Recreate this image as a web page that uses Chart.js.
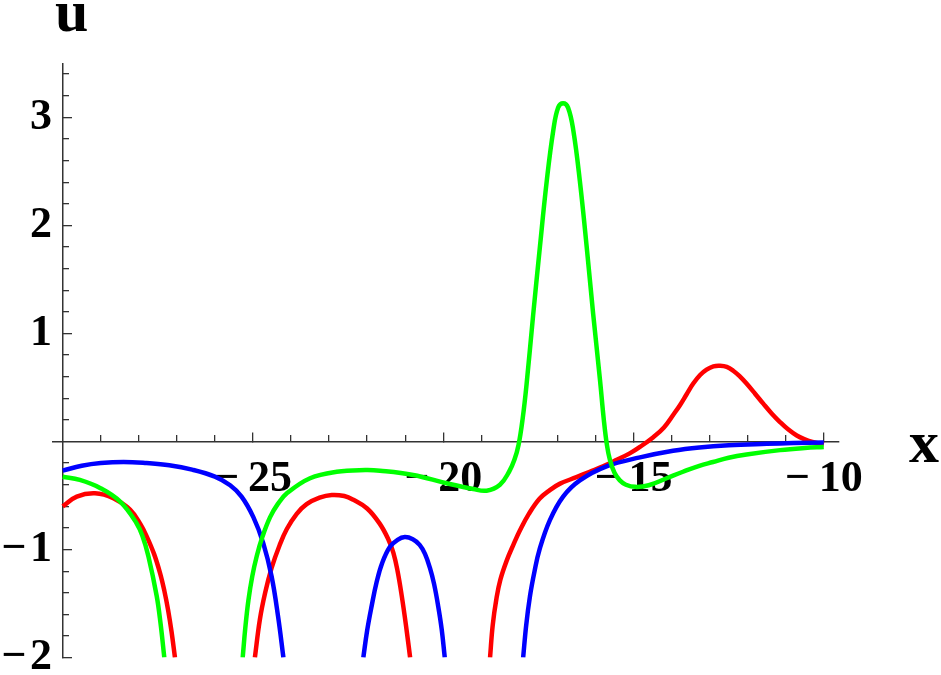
<!DOCTYPE html>
<html>
<head>
<meta charset="utf-8">
<script src="https://cdn.jsdelivr.net/npm/chart.js@4.4.1/dist/chart.umd.min.js"></script>
<style>
    body { margin: 0; background: #fff; }
</style>
</head>
<body>
<canvas id="myChart" width="941" height="675"></canvas>
<script>
// values, null = curve leaves the plot (below u = -2)
const greenX = [-30, -29.55, -29.02, -28.49, -28.06, -27.9, -27.75, -27.53, -27.43, -27.33, -26.3,
    -25.27, -25.2, -25.12, -25.02, -24.9, -24.75, -24.55, -24.35, -24.11, -23.5, -22.8, -22.05, -21.66, -20.79, -19.91, -19.21, -18.86,
    -18.51, -18.27, -18.13, -18.02, -17.91, -17.81, -17.64, -17.46, -17.28, -17.11, -16.98, -16.85,
    -16.72, -16.58, -16.41, -16.23, -16.06, -15.88, -15.78, -15.7, -15.62, -15.5, -15.36, -15.2, -14.95,
    -14.6, -14.13, -13.7, -13.27, -12.91, -12.5, -12.03, -11.15, -10.5, -10];
const greenU = [-0.326, -0.356, -0.43, -0.557, -0.756, -0.88, -1.06, -1.43, -1.68, -2.0, null,
    -2.0, -1.72, -1.47, -1.25, -1.06, -0.88, -0.7, -0.58, -0.48, -0.34, -0.28, -0.264, -0.27, -0.31, -0.387, -0.44, -0.455,
    -0.4, -0.28, -0.17, -0.03, 0.22, 0.53, 1.16, 1.8, 2.41, 2.875, 3.09, 3.13,
    3.09, 2.875, 2.41, 1.8, 1.18, 0.567, 0.2, -0.03, -0.17, -0.29, -0.36, -0.4, -0.42,
    -0.405, -0.34, -0.28, -0.225, -0.19, -0.15, -0.12, -0.08, -0.06, -0.05];

const redX = [-30, -29.63, -29.15, -28.67, -28.23, -27.95, -27.79, -27.6, -27.44, -27.33, -27.23, -27.14, -27.05, -26.0,
    -24.95, -24.82, -24.68, -24.51, -24.3, -24.11, -23.85, -23.59, -23.25, -22.93, -22.6, -22.36, -22.0, -21.67,
    -21.45, -21.31, -21.2, -21.09, -20.98, -20.87, -19.8,
    -18.77, -18.7, -18.6, -18.5, -18.33, -18.15, -17.98, -17.75, -17.47, -17.2, -16.93, -16.5, -16.15, -15.8, -15.44, -15.1,
    -14.83, -14.48, -14.2, -13.95, -13.78, -13.6, -13.43, -13.25, -13.08, -12.9, -12.73, -12.55, -12.38,
    -12.2, -12.03, -11.8, -11.59, -11.37, -11.15, -10.93, -10.71, -10.5, -10.3, -10];
const redU = [-0.6, -0.51, -0.48, -0.525, -0.63, -0.77, -0.88, -1.04, -1.22, -1.38, -1.56, -1.76, -2.0, null,
    -2.0, -1.65, -1.4, -1.17, -0.96, -0.81, -0.67, -0.58, -0.52, -0.495, -0.505, -0.54, -0.62, -0.76,
    -0.9, -1.03, -1.2, -1.43, -1.7, -2.0, null,
    -2.0, -1.7, -1.45, -1.28, -1.1, -0.95, -0.82, -0.67, -0.53, -0.45, -0.39, -0.33, -0.28, -0.23, -0.17, -0.11,
    -0.05, 0.04, 0.13, 0.25, 0.336, 0.44, 0.536, 0.615, 0.665, 0.695, 0.7, 0.69, 0.655,
    0.6, 0.536, 0.44, 0.35, 0.26, 0.18, 0.11, 0.055, 0.02, -0.005, -0.03];

const blueX = [-30, -29.5, -29.0, -28.4, -27.8, -27.2, -26.6, -26.0, -25.6, -25.3, -24.99, -24.73, -24.51, -24.34, -24.2, -23.1,
    -22.1, -22.0, -21.88, -21.75, -21.6, -21.4, -21.2, -21.01, -20.8, -20.62, -20.48, -20.35, -20.24, -20.13, -20.04, -19.96, -19.0,
    -17.9, -17.82, -17.72, -17.6, -17.47, -17.2, -16.85, -16.41, -15.71, -14.83, -13.96, -13.27, -12.5, -11.5, -10.8, -10];
const blueU = [-0.27, -0.225, -0.2, -0.19, -0.2, -0.22, -0.26, -0.325, -0.405, -0.51, -0.7, -0.94, -1.25, -1.62, -2.0, null,
    -2.0, -1.75, -1.52, -1.3, -1.12, -0.975, -0.91, -0.885, -0.905, -0.957, -1.04, -1.17, -1.32, -1.53, -1.74, -2.0, null,
    -2.0, -1.7, -1.43, -1.2, -1.0, -0.73, -0.51, -0.36, -0.23, -0.147, -0.086, -0.055, -0.035, -0.022, -0.015, -0.01];

// ticks
const xMajorTicks = [-25, -20, -15, -10];
const xMinorTicks = [-29, -28, -27, -26, -24, -23, -22, -21, -19, -18, -17, -16, -14, -13, -12, -11];
const yMajorTicks = [-2, -1, 1, 2, 3];
const yMinorTicks = [-1.8, -1.6, -1.4, -1.2, -0.8, -0.6, -0.4, -0.2, 0.2, 0.4, 0.6, 0.8,
    1.2, 1.4, 1.6, 1.8, 2.2, 2.4, 2.6, 2.8, 3.2, 3.4];

const tickFont = { family: '"Liberation Serif", "Times New Roman", serif', size: 44, weight: 'bold' };
const axisColor = '#333';

function toPoints(xs, us) {
    let pts = [];
    for (let i = 0; i < xs.length; i++) {
        pts.push({ x: xs[i], y: us[i] });
    }
    return pts;
}

function fmtX(v) {
    return v < 0 ? '\u2212\u2009' + Math.abs(v) : '' + v;
}

function fmtY(v) {
    return v < 0 ? '\u2212\u200a' + Math.abs(v) : '' + v;
}

function zeroPad(scale) {
    scale.paddingLeft = 0;
    scale.paddingRight = 0;
    scale.paddingTop = 0;
    scale.paddingBottom = 0;
}

function setTicks(list) {
    return function (scale) {
        scale.ticks = list.map(function (v) { return { value: v }; });
    };
}

function line(label, color, xs, us) {
    return {
        label: label,
        data: toPoints(xs, us),
        borderColor: color,
        borderWidth: 4.5,
        pointRadius: 0,
        showLine: true,
        spanGaps: false,
        tension: 0.4,
        xAxisID: 'x',
        yAxisID: 'y'
    };
}

// u and x labels next to the axes
const axisTitles = {
    id: 'axisTitles',
    afterDraw(chart) {
        let ctx = chart.ctx;
        let xs = chart.scales.x;
        let ys = chart.scales.y;
        ctx.save();
        ctx.font = 'bold 60px "Liberation Serif", serif';
        ctx.fillStyle = '#000';
        ctx.textAlign = 'center';
        ctx.textBaseline = 'alphabetic';
        ctx.fillText('u', xs.getPixelForValue(-30) + 9, 31);
        ctx.fillText('x', xs.right + 85, ys.getPixelForValue(0) + 21);
        ctx.restore();
    }
};

const config = {
    type: 'scatter',
    data: {
        datasets: [
            line('green', '#00ff00', greenX, greenU),
            line('blue', '#0000ff', blueX, blueU),
            line('red', '#ff0000', redX, redU)
        ]
    },
    options: {
        responsive: false,
        animation: false,
        devicePixelRatio: 1,
        layout: { padding: { left: 0, right: 102, top: 63.3, bottom: 17.4 } },
        plugins: { legend: { display: false }, tooltip: { enabled: false } },
        scales: {
            x: {
                type: 'linear', axis: 'x', min: -30.255, max: -9.6, position: { y: 0 },
                afterBuildTicks: setTicks(xMajorTicks),
                afterFit: zeroPad,
                ticks: { font: tickFont, color: '#000', padding: 22, maxRotation: 0, autoSkip: false, callback: fmtX },
                grid: { drawOnChartArea: false, tickLength: -10, color: axisColor, lineWidth: 1.3 },
                border: { color: axisColor, width: 1.5 }
            },
            xMinor: {
                type: 'linear', axis: 'x', min: -30.255, max: -9.6, position: { y: 0 },
                afterBuildTicks: setTicks(xMinorTicks),
                afterFit: zeroPad,
                ticks: { display: false },
                grid: { drawOnChartArea: false, tickLength: -6, color: axisColor, lineWidth: 1.3 },
                border: { display: false }
            },
            y: {
                type: 'linear', axis: 'y', min: -2, max: 3.5, position: { x: -30 },
                afterBuildTicks: setTicks(yMajorTicks),
                afterFit: zeroPad,
                ticks: { display: false },
                grid: { drawOnChartArea: false, tickLength: -10, color: axisColor, lineWidth: 1.3 },
                border: { color: axisColor, width: 1.5 }
            },
            yMinor: {
                type: 'linear', axis: 'y', min: -2, max: 3.5, position: { x: -30 },
                afterBuildTicks: setTicks(yMinorTicks),
                afterFit: zeroPad,
                ticks: { display: false },
                grid: { drawOnChartArea: false, tickLength: -6, color: axisColor, lineWidth: 1.3 },
                border: { display: false }
            },
            yLab: {
                // only carries the tick labels left of the u axis
                type: 'linear', axis: 'y', min: -2, max: 3.5, position: 'left',
                afterBuildTicks: setTicks(yMajorTicks),
                afterFit: function (scale) { zeroPad(scale); scale.width = 53; },
                ticks: { font: tickFont, color: '#000', padding: 1, callback: fmtY },
                grid: { display: false, drawTicks: false },
                border: { display: false }
            }
        }
    },
    plugins: [axisTitles]
};

let c = document.getElementById('myChart').getContext('2d');
var curchart = new Chart(c, config);
</script>
</body>
</html>
